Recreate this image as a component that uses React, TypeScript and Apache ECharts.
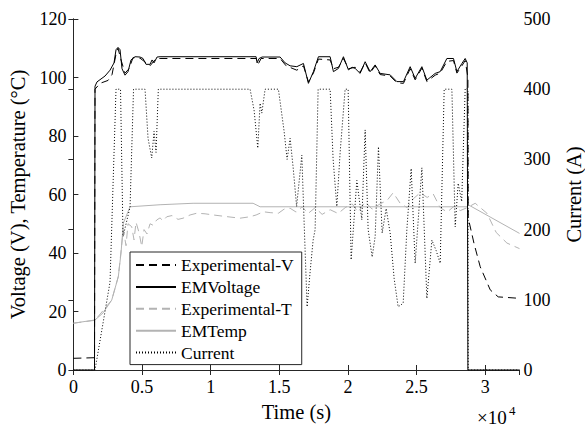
import React, { useEffect, useRef } from "react";
import * as echarts from "echarts";

// Time (s) and values
const vTime = [0, 1538, 1574, 1720, 2303, 2668, 2959, 3105, 3251, 3397, 3542, 3761, 3980, 4198, 4490, 4854, 5073, 5292, 5583, 5729, 5875, 6094, 6312, 13310, 13383, 13528, 13747, 15059, 15423, 15788, 16277, 16758, 17122, 17486, 17851, 18704, 18944, 19309, 19673, 20038, 20307, 20526, 20890, 21255, 21619, 21984, 22348, 23077, 23566, 24046, 24535, 24899, 25388, 25752, 26358, 26722, 27210, 27691, 27939, 28304, 28544, 28690, 28741, 32500];
const emVoltage = [0, 0, 97, 98.5, 100.5, 102.5, 105, 109.5, 110.3, 109.5, 103, 100.8, 102, 106, 107.1, 107, 106.5, 104.5, 104.5, 106, 105, 107, 107.1, 107.1, 105, 106.5, 107, 107, 105, 104, 103.7, 104.8, 98, 102, 107.1, 107.1, 102, 103.1, 107.1, 102.6, 103.5, 103.1, 101.4, 105.4, 102, 104.3, 101.4, 100.9, 98.6, 98.6, 103.7, 99.7, 103.7, 99.1, 101.4, 102, 106.5, 106.5, 102, 104.8, 106.5, 105, 0, 0];

const expVTime = [0, 1538, 1574, 1939, 2522, 2814, 3105, 3251, 3470, 3761, 4053, 4344, 4854, 5583, 6021, 6312, 13310, 13455, 13674, 15059, 15496, 16277, 16758, 17122, 17486, 17851, 18704, 18944, 19309, 19673, 20038, 20526, 20890, 21255, 21619, 21984, 22348, 23077, 23566, 24046, 24535, 24899, 25388, 25752, 26358, 26722, 27210, 27691, 27939, 28304, 28544, 28741, 28763, 29200, 29638, 30366, 30950, 32500];
const expVoltage = [4, 4.2, 96, 98, 99, 101, 108, 110, 106, 101.5, 103, 106.8, 106.6, 104, 106.5, 106.5, 106.5, 104.5, 106.5, 106.5, 104, 102.5, 104, 98.5, 101.5, 106.3, 106, 103, 103.5, 106.5, 103, 103.5, 101.8, 105, 101.5, 104, 101, 100.5, 98.2, 98, 103, 99.2, 103.2, 98.6, 100.8, 101.5, 105.5, 105.8, 101.5, 104, 105.8, 100, 52, 43, 35.3, 27.4, 25, 24.5];

const emTTime = [0, 1574, 2158, 2792, 3273, 3470, 3637, 4126, 6312, 8718, 13091, 13601, 28690, 28763, 32500];
const emTemp = [16, 17.1, 19.5, 23.9, 31.9, 40, 50.2, 55.8, 56.5, 57, 57, 55.8, 55.8, 56.5, 46.7];

const expTTime = [0, 1574, 2792, 3273, 3637, 3834, 3980, 4249, 4417, 4563, 4782, 4978, 5146, 5365, 5583, 5802, 6072, 6312, 6531, 6801, 7187, 7624, 7989, 8499, 8987, 9592, 10197, 11050, 12143, 12872, 13310, 13842, 14330, 14935, 15351, 15788, 16225, 16663, 17100, 17610, 18120, 18704, 19287, 19797, 20307, 20745, 21255, 21765, 22348, 22859, 23296, 23806, 24316, 24754, 25264, 25774, 26212, 26722, 27232, 27742, 28179, 28690, 29273, 30126, 30804, 31584, 32500];
const expTemp = [16, 17, 23.9, 32, 48, 42.5, 50, 49, 44.5, 50.5, 47, 42.2, 48, 46.5, 50, 49.5, 51.3, 52, 51, 52.4, 52.8, 51.5, 51.9, 53, 53.6, 53.4, 53, 52.5, 51.9, 52.4, 53, 54.1, 53.8, 53.6, 55, 55.3, 54, 55.8, 53.5, 55.5, 53.2, 54.8, 53.5, 55.5, 56.8, 54, 57.5, 55, 56.8, 58, 60.6, 57, 55.5, 58.5, 60.6, 59, 60.2, 55.5, 54, 56, 54.5, 55.5, 57, 53.6, 47, 43.4, 41.5];

const curTime = [0, 1574, 2668, 3105, 3433, 3615, 4126, 4381, 5219, 5438, 5707, 5875, 6021, 6188, 12872, 13164, 13434, 13601, 13725, 13966, 14935, 15351, 15569, 15788, 16007, 16262, 16641, 16809, 17027, 17246, 17465, 17610, 17829, 18704, 18922, 19192, 19433, 19797, 20016, 20234, 20650, 21014, 21255, 21473, 21765, 21984, 22224, 22494, 22786, 23077, 23369, 23660, 24025, 24294, 24608, 24899, 25388, 25752, 26117, 26430, 26722, 27013, 27574, 27815, 28033, 28289, 28544, 28741, 28763, 32500];
const current = [0, 0, 125, 400, 400, 190, 232, 400, 400, 330, 302, 340, 310, 400, 400, 370, 316, 380, 366, 400, 400, 340, 300, 330, 289, 233, 306, 210, 90, 140, 185, 200, 400, 400, 300, 233, 310, 400, 400, 157, 270, 214, 342, 200, 161, 190, 318, 195, 230, 195, 130, 90, 95, 200, 287, 152, 288, 102, 185, 170, 152, 400, 400, 204, 266, 240, 401, 400, 0, 0];

const legendNames = ["Experimental-V", "EMVoltage", "Experimental-T", "EMTemp", "Current"];

const xTicksLabel = (v: number) => (v > 30000 ? "" : String(v / 10000));

const FONT = "Liberation Serif";
const AX = "#262626";

function pairs(xs: number[], ys: number[]) {
  return xs.map((x, i) => [x, ys[i]]);
}

export default function App() {
  const ref = useRef<HTMLDivElement>(null);
  useEffect(() => {
    if (!ref.current) return;
    const chart = echarts.init(ref.current, undefined, { renderer: "svg" });
    const tickLabel = { fontFamily: FONT, fontSize: 18, color: "#000" };
    chart.setOption({
      animation: false,
      backgroundColor: "#fff",
      grid: { left: 73.4, right: 65.5, top: 19, bottom: 58, outerBoundsMode: "none", containLabel: false },
      xAxis: [
        {
          type: "value",
          min: 0,
          max: 32500,
          interval: 5000,
          position: "bottom",
          name: "Time (s)",
          nameLocation: "middle",
          nameGap: 31,
          nameTextStyle: { fontFamily: FONT, fontSize: 20.5, color: "#000" },
          axisLine: { show: true, lineStyle: { color: "#7a7a7a", width: 1 } },
          axisTick: { show: true, inside: true, length: 5, lineStyle: { color: AX } },
          axisLabel: { ...tickLabel, margin: 8, formatter: xTicksLabel, showMaxLabel: false },
          splitLine: { show: false },
        },
        {
          type: "value",
          min: 0,
          max: 32500,
          interval: 5000,
          position: "top",
          axisLine: { show: true, lineStyle: { color: AX, width: 1 } },
          axisTick: { show: true, inside: true, length: 5, lineStyle: { color: AX } },
          axisLabel: { show: false },
          splitLine: { show: false },
        },
      ],
      yAxis: [
        {
          type: "value",
          min: 0,
          max: 120,
          interval: 20,
          position: "left",
          name: "Voltage (V), Temperature (°C)",
          nameLocation: "middle",
          nameRotate: 90,
          nameGap: 37,
          nameTextStyle: { fontFamily: FONT, fontSize: 20.5, color: "#000" },
          axisLine: { show: true, lineStyle: { color: AX, width: 1 } },
          axisTick: { show: true, inside: true, length: 5, lineStyle: { color: AX } },
          axisLabel: { ...tickLabel, margin: 7 },
          splitLine: { show: false },
        },
        {
          type: "value",
          min: 0,
          max: 500,
          interval: 100,
          position: "right",
          name: "Current (A)",
          nameLocation: "middle",
          nameRotate: 90,
          nameGap: 44,
          nameTextStyle: { fontFamily: FONT, fontSize: 20.5, color: "#000" },
          axisLine: { show: true, lineStyle: { color: AX, width: 1 } },
          axisTick: { show: true, inside: true, length: 5, lineStyle: { color: AX } },
          axisLabel: { ...tickLabel, margin: 4 },
          splitLine: { show: false },
        },
      ],
      legend: {
        orient: "vertical",
        left: 130,
        top: 252,
        itemWidth: 40,
        itemHeight: 14,
        itemGap: 3.9,
        padding: [4, 8, 3, 5],
        backgroundColor: "#fff",
        borderColor: AX,
        borderWidth: 1,
        borderRadius: 0,
        itemStyle: { opacity: 0 },
        textStyle: { fontFamily: FONT, fontSize: 17.5, lineHeight: 18, color: "#000" },
        data: legendNames,
      },
      graphic: [
        {
          type: "text",
          left: 477,
          top: 408,
          style: { text: "×10", fontFamily: FONT, fontSize: 19, lineHeight: 19, fill: "#000" },
        },
        {
          type: "text",
          left: 509,
          top: 404,
          style: { text: "4", fontFamily: FONT, fontSize: 13, lineHeight: 13, fill: "#000" },
        },
      ],
      series: [
        {
          name: legendNames[0],
          type: "line",
          data: pairs(expVTime, expVoltage),
          symbol: "none",
          lineStyle: { color: "#000", width: 1, type: [8, 5] },
          itemStyle: { color: "#000" },
          z: 3,
        },
        {
          name: legendNames[1],
          type: "line",
          data: pairs(vTime, emVoltage),
          symbol: "none",
          lineStyle: { color: "#000", width: 1 },
          itemStyle: { color: "#000" },
          z: 4,
        },
        {
          name: legendNames[2],
          type: "line",
          data: pairs(expTTime, expTemp),
          symbol: "none",
          lineStyle: { color: "#b3b3b3", width: 1, type: [8, 5] },
          itemStyle: { color: "#b3b3b3" },
          z: 2,
        },
        {
          name: legendNames[3],
          type: "line",
          data: pairs(emTTime, emTemp),
          symbol: "none",
          lineStyle: { color: "#b3b3b3", width: 1 },
          itemStyle: { color: "#b3b3b3" },
          z: 2,
        },
        {
          name: legendNames[4],
          type: "line",
          yAxisIndex: 1,
          data: pairs(curTime, current),
          symbol: "none",
          lineStyle: { color: "#000", width: 1, type: [1, 2] },
          itemStyle: { color: "#000" },
          z: 2,
        },
      ],
    });
    return () => chart.dispose();
  }, []);
  return (
    <div
      ref={ref}
      style={{ position: "absolute", left: 0, top: 0, width: 585, height: 428, background: "#fff" }}
    />
  );
}
